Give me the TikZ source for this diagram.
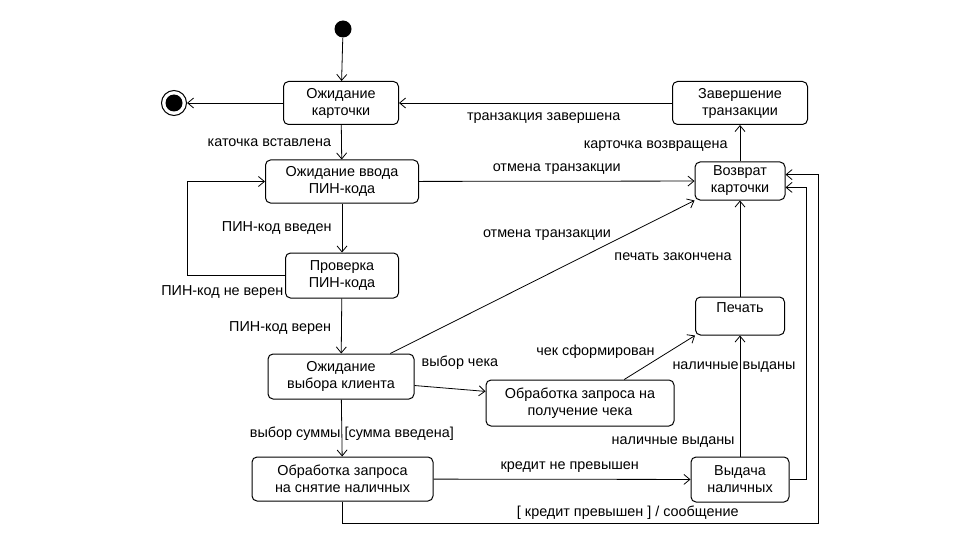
\documentclass[tikz,border=0pt]{standalone}
\usepackage{fontspec}
\setmainfont{Liberation Sans}
\usetikzlibrary{arrows.meta}

\begin{document}
\begin{tikzpicture}[x=1pt,y=-1pt,->,>={Straight Barb[length=6pt,width=10pt]},
  line width=0.8pt,
  state node/.style={rectangle,rounded corners=5pt,draw,line width=1pt,
    align=center,inner sep=0pt,font=\fontsize{14.4}{17}\selectfont},
  start node/.style={circle,fill=black,inner sep=0pt,minimum size=17pt},
  end node/.style={circle,draw,line width=1pt,inner sep=0pt,minimum size=25pt,
    path picture={\fill (path picture bounding box.center) circle (8.5pt);}},
  label node/.style={font=\fontsize{14.4}{17}\selectfont,inner sep=1pt}]

  \useasboundingbox (0,0) rectangle (960,540);

  \node[start node] (init) at (343,29) {};
  \node[end node] (final) at (174,103) {};
  \node[state node, minimum width=115pt, minimum height=43pt] (card) at (341,103) {Ожидание\\карточки};
  \node[state node, minimum width=153pt, minimum height=43pt] (pin) at (342,181.5) {Ожидание ввода\\ПИН-кода};
  \node[state node, minimum width=113pt, minimum height=45pt] (check) at (342,275.5) {Проверка\\ПИН-кода};
  \node[state node, minimum width=146pt, minimum height=45pt] (choice) at (341,376.5) {Ожидание\\выбора клиента};
  \node[state node, minimum width=181pt, minimum height=44pt] (cash) at (342.5,479) {Обработка запроса\\на снятие наличных};
  \node[state node, minimum width=188pt, minimum height=46pt] (receipt) at (580,403) {Обработка запроса на\\получение чека};
  \node[state node, minimum width=89pt, minimum height=38pt] (print) at (740,316) {Печать\\\mbox{}};
  \node[state node, minimum width=98pt, minimum height=45pt] (give) at (740,479.5) {Выдача\\наличных};
  \node[state node, minimum width=90pt, minimum height=38pt] (ret) at (740,181) {Возврат\\карточки};
  \node[state node, minimum width=135pt, minimum height=43pt] (done) at (740,103) {Завершение\\транзакции};

  \path[every node/.style={label node}]
    (init) edge (card)
    (card) edge (final)
    (card) edge node[left=9pt] {каточка вставлена} (pin)
    (pin) edge node[left=9pt] {ПИН-код введен} (check)
      edge node[yshift=12pt] {отмена транзакции} (ret)
    (check) edge node[left=9pt, pos=0.54] {ПИН-код верен} (choice)
    (choice) edge node[pos=0.6, xshift=10pt] {выбор суммы [сумма введена]} (cash)
    (choice.25) edge node[above left, pos=0.73] {отмена транзакции} (ret.south west)
    (choice.-7) edge node[pos=0.64, yshift=27pt] {выбор чека} (receipt.173)
    (receipt.28) edge node[above left, pos=0.45] {чек сформирован} (print.south west)
    (cash) edge node[pos=0.53, yshift=12pt] {кредит не превышен} (give)
    (give) edge node[left=4pt, pos=0.12] {наличные выданы}
      node[pos=0.74, xshift=-6pt] {наличные выданы} (print)
    (print) edge node[left=7pt, pos=0.41] {печать закончена} (ret)
    (ret) edge node[left=11pt, pos=0.42] {карточка возвращена} (done)
    (done) edge node[pos=0.47, yshift=-15pt] {транзакция завершена} (card);

  \draw[every node/.style={label node}] (check.west) -- node[pos=0.64, yshift=-17pt] {ПИН-код не верен} ++(-98,0) |- (pin.west);
  \draw[every node/.style={label node}] (cash.south) |- node[pos=0.8, yshift=10pt] {[ кредит превышен ] / сообщение} (818,523) |- (ret.8);
  \draw (give.east) -- ++(17,0) |- (ret.-8);
\end{tikzpicture}
\end{document}
